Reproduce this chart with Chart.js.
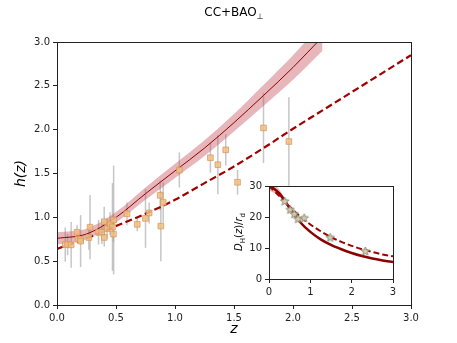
<!DOCTYPE html>
<html>
<head>
<meta charset="utf-8">
<script src="https://cdn.jsdelivr.net/npm/chart.js@4.4.1/dist/chart.umd.min.js"></script>
<style>
body { margin: 0; background: #fff; font-family: "DejaVu Sans", sans-serif; }
#wrap { position: relative; width: 457px; height: 343px; }
#title { position: absolute; left: 0; width: 468px; top: 5px; text-align: center; font-size: 12px; color: #000; }
#title sub { font-size: 8px; }
#inset { position: absolute; left: 230px; top: 176px; }
#insetLabel { position: absolute; left: 240px; top: 232px; transform: translate(-50%, -50%) rotate(-90deg); font-size: 10px; white-space: nowrap; color: #000; }
#insetLabel sub { font-size: 7px; }
</style>
</head>
<body>
<div id="wrap">
  <canvas id="main" width="457" height="343"></canvas>
  <div id="title">CC+BAO<sub>⊥</sub></div>
  <canvas id="inset" width="175" height="125"></canvas>
  <div id="insetLabel"><i>D</i><sub>H</sub>(<i>z</i>)/<i>r</i><sub>d</sub></div>
</div>
<script>
// cosmic chronometer data, h = H/100
const ccZ   = [0.07, 0.09, 0.12, 0.17, 0.179, 0.199, 0.2, 0.27, 0.28, 0.352, 0.3802, 0.4, 0.4004, 0.4247, 0.4497, 0.47, 0.4783, 0.48, 0.593, 0.68, 0.75, 0.781, 0.875, 0.88, 0.9, 1.037, 1.3, 1.363, 1.43, 1.53, 1.75, 1.965];
const ccH   = [0.69, 0.69, 0.686, 0.83, 0.75, 0.75, 0.729, 0.77, 0.888, 0.83, 0.83, 0.95, 0.77, 0.871, 0.928, 0.89, 0.809, 0.97, 1.04, 0.92, 0.988, 1.05, 1.25, 0.90, 1.17, 1.54, 1.68, 1.60, 1.77, 1.40, 2.02, 1.865];
const ccErr = [0.196, 0.12, 0.262, 0.08, 0.04, 0.05, 0.296, 0.14, 0.366, 0.14, 0.135, 0.17, 0.102, 0.112, 0.129, 0.50, 0.09, 0.62, 0.13, 0.08, 0.336, 0.12, 0.17, 0.40, 0.23, 0.20, 0.17, 0.336, 0.18, 0.14, 0.40, 0.504];

// best fit curve and band
const fitZ     = [0, 0.25, 0.5, 0.75, 1.0, 1.25, 1.5, 1.75, 2.0, 2.25];
const fitH     = [0.76, 0.81, 1.00, 1.27, 1.53, 1.79, 2.08, 2.39, 2.71, 3.06];
const fitUpper = [0.83, 0.87, 1.06, 1.34, 1.61, 1.88, 2.18, 2.51, 2.85, 3.22];
const fitLower = [0.69, 0.75, 0.94, 1.20, 1.45, 1.70, 1.98, 2.27, 2.57, 2.90];

// reference (dashed) curve
const refZ = [0, 0.25, 0.5, 0.75, 1.0, 1.25, 1.5, 1.75, 2.0, 2.25, 2.5, 2.75, 3.0];
const refH = [0.64, 0.76, 0.90, 1.04, 1.20, 1.39, 1.58, 1.79, 2.01, 2.22, 2.43, 2.64, 2.85];

// inset: D_H/r_d
const baoZ  = [0.38, 0.51, 0.61, 0.70, 0.85, 1.48, 2.33];
const baoDH = [25.0, 22.3, 20.9, 19.3, 19.6, 13.3, 8.9];
const insZ      = [0, 0.25, 0.5, 0.75, 1.0, 1.25, 1.5, 1.75, 2.0, 2.25, 2.5, 2.75, 3.0];
const insFit    = [30.4, 27.6, 22.9, 18.4, 15.2, 12.8, 11.0, 9.6, 8.4, 7.4, 6.6, 6.0, 5.5];
const insUpper  = [32.5, 28.8, 23.5, 18.8, 15.5, 13.0, 11.2, 9.75, 8.55, 7.5, 6.7, 6.1, 5.6];
const insLower  = [28.6, 26.6, 22.3, 18.0, 14.9, 12.6, 10.8, 9.45, 8.25, 7.3, 6.5, 5.9, 5.4];
const insRef    = [30.0, 26.8, 23.3, 20.2, 17.6, 15.4, 13.5, 12.0, 10.7, 9.6, 8.7, 7.9, 7.3];

const mainTicks = [0, 0.5, 1.0, 1.5, 2.0, 2.5, 3.0];

Chart.defaults.font.family = 'DejaVu Sans';
Chart.defaults.font.size = 10;
Chart.defaults.color = '#222';

const xy = (xs, ys) => xs.map((v, i) => ({ x: v, y: ys[i] }));

// draw error bars under the points
const errorBars = {
  id: 'errorBars',
  beforeDatasetsDraw(chart) {
    const { ctx, scales: { x, y } } = chart;
    ctx.save();
    ctx.strokeStyle = 'rgba(160,160,160,0.6)';
    ctx.lineWidth = 1.5;
    ccZ.forEach((z, i) => {
      const px = x.getPixelForValue(z);
      ctx.beginPath();
      ctx.moveTo(px, y.getPixelForValue(ccH[i] - ccErr[i]));
      ctx.lineTo(px, y.getPixelForValue(ccH[i] + ccErr[i]));
      ctx.stroke();
    });
    ctx.restore();
  }
};

// white background + box round the axes
const frame = {
  id: 'frame',
  beforeDraw(chart, args, opts) {
    if (!opts.fill) return;
    const a = chart.chartArea;
    chart.ctx.save();
    chart.ctx.fillStyle = '#fff';
    chart.ctx.fillRect(a.left, a.top, a.right - a.left, a.bottom - a.top);
    chart.ctx.restore();
  },
  afterDraw(chart) {
    const a = chart.chartArea;
    const ctx = chart.ctx;
    ctx.save();
    ctx.strokeStyle = '#222';
    ctx.lineWidth = 1;
    ctx.strokeRect(Math.round(a.left) + 0.5, Math.round(a.top) + 0.5, Math.round(a.right - a.left), Math.round(a.bottom - a.top));
    ctx.restore();
  }
};

function axisOpts(min, max, ticks, size, titleText, titleOpts) {
  return {
    type: 'linear',
    min: min, max: max,
    afterBuildTicks: s => { s.ticks = ticks.map(v => ({ value: v })); },
    afterFit: s => { if (s.isHorizontal()) s.height = size; else s.width = size; },
    grid: { display: true, drawOnChartArea: false, drawTicks: true, tickLength: 4, color: '#222' },
    border: { display: false },
    ticks: { padding: 3, color: '#222', callback: titleOpts.fmt },
    title: titleText ? Object.assign({ display: true, text: titleText, color: '#000' }, titleOpts.title) : { display: false }
  };
}

new Chart(document.getElementById('main'), {
  type: 'scatter',
  data: {
    datasets: [
      {
        label: 'CC',
        data: xy(ccZ, ccH),
        pointStyle: 'rect',
        pointRadius: 4,
        backgroundColor: 'rgba(240,190,130,0.85)',
        borderColor: 'rgba(215,150,90,0.9)',
        borderWidth: 0.8
      },
      {
        type: 'line',
        label: 'reference',
        data: xy(refZ, refH),
        borderColor: '#a00000',
        borderWidth: 2.2,
        borderDash: [7, 3.5],
        pointRadius: 0,
        cubicInterpolationMode: 'monotone',
        fill: false
      },
      {
        type: 'line',
        label: 'fit',
        data: xy(fitZ, fitH),
        borderColor: '#8b0000',
        borderWidth: 1,
        pointRadius: 0,
        cubicInterpolationMode: 'monotone',
        fill: false
      },
      {
        type: 'line',
        label: 'upper',
        data: xy(fitZ, fitUpper),
        borderWidth: 0,
        pointRadius: 0,
        cubicInterpolationMode: 'monotone',
        backgroundColor: 'rgba(195,80,90,0.42)',
        fill: '+1'
      },
      {
        type: 'line',
        label: 'lower',
        data: xy(fitZ, fitLower),
        borderWidth: 0,
        pointRadius: 0,
        cubicInterpolationMode: 'monotone',
        fill: false
      }
    ]
  },
  options: {
    responsive: false,
    animation: false,
    layout: { padding: { left: 0, top: 42, right: 46, bottom: 0 } },
    plugins: { legend: { display: false }, tooltip: { enabled: false }, frame: { fill: false } },
    scales: {
      x: axisOpts(0, 3, mainTicks, 38, 'z', { fmt: v => v.toFixed(1), title: { font: { size: 14, style: 'italic' }, padding: { top: 0, bottom: 5 } } }),
      y: axisOpts(0, 3, mainTicks, 57, 'h(z)', { fmt: v => v.toFixed(1), title: { font: { size: 14, style: 'italic' }, padding: { top: 13, bottom: 0 } } })
    }
  },
  plugins: [errorBars, frame]
});

// filled star marker
function makeStar(size) {
  const c = document.createElement('canvas');
  c.width = c.height = size;
  const g = c.getContext('2d');
  const r = size / 2 - 1, cx = size / 2, cy = size / 2;
  g.beginPath();
  for (let k = 0; k < 10; k++) {
    const rr = k % 2 ? r * 0.45 : r;
    const a = -Math.PI / 2 + k * Math.PI / 5;
    g.lineTo(cx + rr * Math.cos(a), cy + rr * Math.sin(a));
  }
  g.closePath();
  g.fillStyle = '#d4cca8';
  g.fill();
  g.strokeStyle = '#7a7a70';
  g.lineWidth = 0.8;
  g.stroke();
  return c;
}

new Chart(document.getElementById('inset'), {
  type: 'scatter',
  data: {
    datasets: [
      {
        label: 'BAO',
        data: xy(baoZ, baoDH),
        pointStyle: makeStar(11),
        pointRadius: 5
      },
      {
        type: 'line',
        data: xy(insZ, insRef),
        borderColor: '#a00000',
        borderWidth: 2,
        borderDash: [6, 3],
        pointRadius: 0,
        cubicInterpolationMode: 'monotone',
        fill: false
      },
      {
        type: 'line',
        data: xy(insZ, insFit),
        borderColor: '#8b0000',
        borderWidth: 2.5,
        pointRadius: 0,
        cubicInterpolationMode: 'monotone',
        fill: false
      },
      {
        type: 'line',
        data: xy(insZ, insUpper),
        borderWidth: 0,
        pointRadius: 0,
        cubicInterpolationMode: 'monotone',
        backgroundColor: 'rgba(195,80,90,0.42)',
        fill: '+1'
      },
      {
        type: 'line',
        data: xy(insZ, insLower),
        borderWidth: 0,
        pointRadius: 0,
        cubicInterpolationMode: 'monotone',
        fill: false
      }
    ]
  },
  options: {
    responsive: false,
    animation: false,
    layout: { padding: { left: 0, top: 10, right: 12, bottom: 0 } },
    plugins: { legend: { display: false }, tooltip: { enabled: false }, frame: { fill: true } },
    scales: {
      x: axisOpts(0, 3, [0, 1, 2, 3], 22, null, { fmt: v => String(v) }),
      y: axisOpts(0, 30, [0, 10, 20, 30], 39, null, { fmt: v => String(v) })
    }
  },
  plugins: [frame]
});
</script>
</body>
</html>
